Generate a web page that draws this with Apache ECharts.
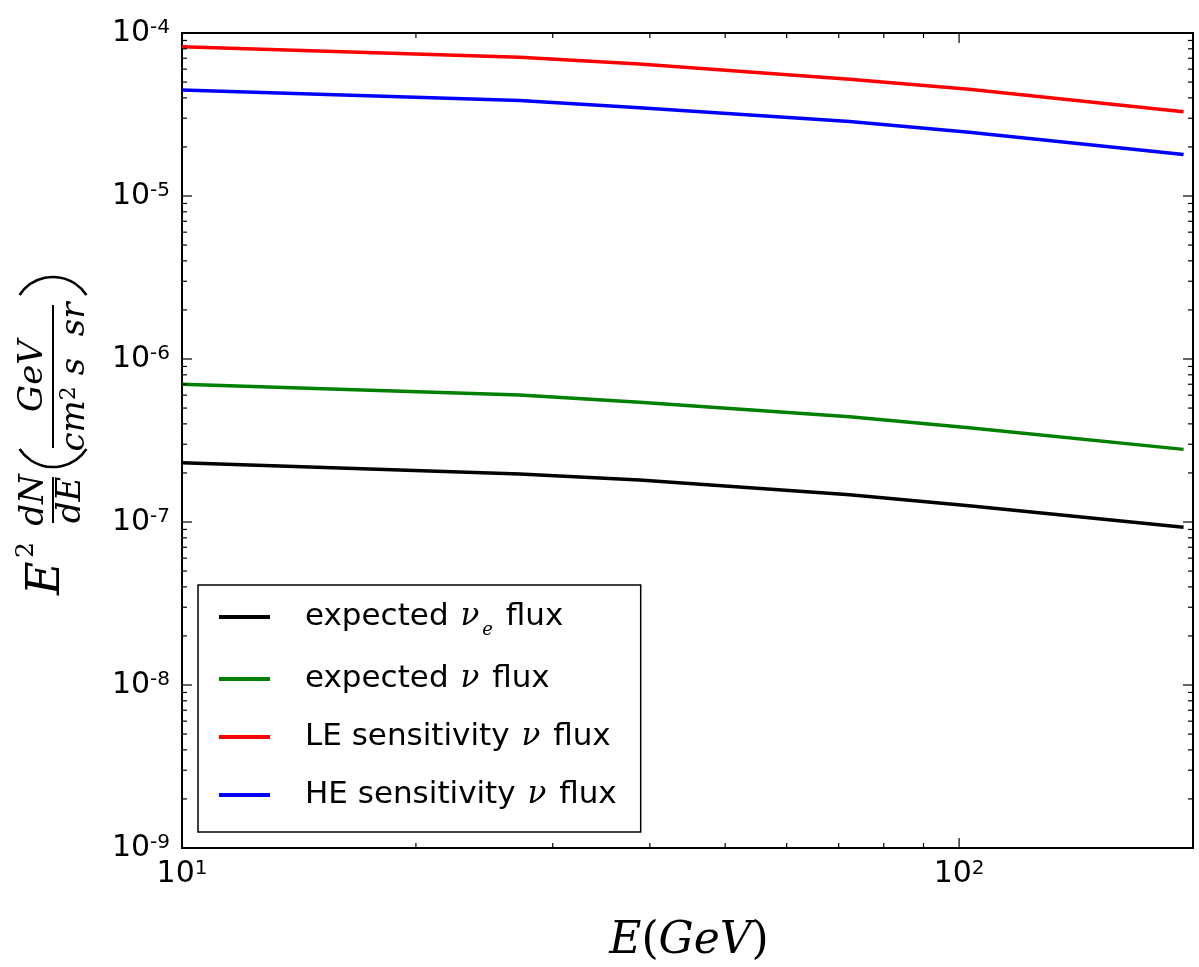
<!DOCTYPE html>
<html>
<head>
<meta charset="utf-8">
<script src="https://cdn.jsdelivr.net/npm/echarts@6/dist/echarts.min.js"></script>
<style>html,body{margin:0;padding:0;background:#fff;}#c{width:1199px;height:967px;}</style>
</head>
<body>
<div id="c"></div>
<script>
// ---- data ----
const energy = [10, 27.2, 38.8, 72.3, 103.0, 194.5];
const expectedNuE = [2.31e-7, 1.97e-7, 1.81e-7, 1.47e-7, 1.26e-7, 9.3e-8];
const expectedNu = [7.00e-7, 6.01e-7, 5.42e-7, 4.43e-7, 3.79e-7, 2.79e-7];
const leSensitivity = [8.24e-5, 7.09e-5, 6.45e-5, 5.20e-5, 4.52e-5, 3.29e-5];
const heSensitivity = [4.47e-5, 3.85e-5, 3.48e-5, 2.86e-5, 2.46e-5, 1.80e-5];

const seriesNames = ['expected nu_e flux', 'expected nu flux', 'LE sensitivity nu flux', 'HE sensitivity nu flux'];
const legendLabels = {
  'expected nu_e flux': 'expected {m|ν}{e|e} flux',
  'expected nu flux': 'expected {m|ν} flux',
  'LE sensitivity nu flux': 'LE sensitivity {m|ν} flux',
  'HE sensitivity nu flux': 'HE sensitivity {m|ν} flux'
};
const seriesColors = ['#000000', '#008000', '#ff0000', '#0000ff'];

// axis ticks
const yMajorTicks = [1e-9, 1e-8, 1e-7, 1e-6, 1e-5, 1e-4];
const yMinorMultipliers = [2, 3, 4, 5, 6, 7, 8, 9];
const xMajorTicks = [10, 100];
const xMinorTicks = [20, 30, 40, 50, 60, 70, 80, 90, 200];

const X_MIN = 10, X_MAX = 200, Y_MIN = 1e-9, Y_MAX = 1e-4;

function pairs(xs, ys) { return xs.map((x, i) => [x, ys[i]]); }

const tickData = [];
yMajorTicks.forEach(v => tickData.push([X_MIN, v, 0, 1]));
yMajorTicks.slice(0, -1).forEach(v => yMinorMultipliers.forEach(m => tickData.push([X_MIN, v * m, 0, 0])));
xMajorTicks.forEach(v => tickData.push([v, Y_MIN, 1, 1]));
xMinorTicks.forEach(v => tickData.push([v, Y_MIN, 1, 0]));

function powLabel(v) {
  const e = Math.log10(v);
  const r = Math.round(e);
  if (Math.abs(e - r) > 1e-6) return '';
  return '{b|10}{s|' + (r < 0 ? '-' + (-r) : r) + '}';
}
const labelRich = {
  b: { fontFamily: 'DejaVu Sans', fontSize: 30, color: '#000', lineHeight: 30, padding: [6, 0, 6, 0] },
  s: { fontFamily: 'DejaVu Sans', fontSize: 20, color: '#000', lineHeight: 20, verticalAlign: 'top' }
};

const chart = echarts.init(document.getElementById('c'), null, { renderer: 'canvas' });

const lineSeries = [expectedNuE, expectedNu, leSensitivity, heSensitivity].map((vals, i) => ({
  name: seriesNames[i],
  type: 'line',
  data: pairs(energy, vals),
  showSymbol: false,
  smooth: false,
  lineStyle: { color: seriesColors[i], width: 3.5, cap: 'butt', join: 'round' },
  itemStyle: { color: seriesColors[i] },
  z: 3
}));

const tickSeries = {
  type: 'custom',
  silent: true,
  clip: false,
  z: 5,
  data: tickData,
  encode: { x: 0, y: 1 },
  renderItem: function (params, api) {
    const kind = api.value(2), major = api.value(3);
    const pt = api.coord([api.value(0), api.value(1)]);
    const cs = params.coordSys;
    const len = major ? 10 : 5;
    const st = { stroke: '#000', lineWidth: 1.2 };
    let a, b;
    if (kind === 0) {
      a = { x1: cs.x, y1: pt[1], x2: cs.x + len, y2: pt[1] };
      b = { x1: cs.x + cs.width - len, y1: pt[1], x2: cs.x + cs.width, y2: pt[1] };
    } else {
      a = { x1: pt[0], y1: cs.y + cs.height, x2: pt[0], y2: cs.y + cs.height - len };
      b = { x1: pt[0], y1: cs.y, x2: pt[0], y2: cs.y + len };
    }
    return { type: 'group', children: [
      { type: 'line', shape: a, style: st },
      { type: 'line', shape: b, style: st }
    ] };
  }
};

const serif = '"DejaVu Serif"';
const yTitle = {
  type: 'group', x: 53, y: 595, rotation: Math.PI / 2, silent: true,
  children: [
    { type: 'text', x: 0, y: -6, style: { text: 'E', font: 'italic 46px ' + serif, fill: '#000', align: 'left', verticalAlign: 'middle' } },
    { type: 'text', x: 37, y: -27, style: { text: '2', font: '25px ' + serif, fill: '#000', align: 'left', verticalAlign: 'middle' } },
    { type: 'text', x: 95, y: -19, style: { text: 'dN', font: 'italic 34px ' + serif, fill: '#000', align: 'center', verticalAlign: 'middle' } },
    { type: 'line', shape: { x1: 72, y1: 0, x2: 118, y2: 0 }, style: { stroke: '#000', lineWidth: 2 } },
    { type: 'text', x: 95, y: 18, style: { text: 'dE', font: 'italic 34px ' + serif, fill: '#000', align: 'center', verticalAlign: 'middle' } },
    { type: 'arc', shape: { cx: 168, cy: 0, r: 40, startAngle: Math.PI - 0.99, endAngle: Math.PI + 0.99, clockwise: true }, style: { stroke: '#000', lineWidth: 2.5, fill: null } },
    { type: 'text', x: 219, y: -20, style: { text: 'GeV', font: 'italic 34px ' + serif, fill: '#000', align: 'center', verticalAlign: 'middle' } },
    { type: 'line', shape: { x1: 147, y1: 0, x2: 290, y2: 0 }, style: { stroke: '#000', lineWidth: 2 } },
    { type: 'text', x: 218, y: 22, style: {
        text: '{i|cm}{s|2}{i| s  sr}', align: 'center', verticalAlign: 'middle',
        rich: {
          i: { font: 'italic 34px ' + serif, fill: '#000', lineHeight: 34 },
          s: { font: '22px ' + serif, fill: '#000', lineHeight: 34, verticalAlign: 'top', padding: [0, 0, 14, 0] }
        } } },
    { type: 'arc', shape: { cx: 278, cy: 0, r: 40, startAngle: -0.99, endAngle: 0.99, clockwise: true }, style: { stroke: '#000', lineWidth: 2.5, fill: null } }
  ]
};
const xTitle = {
  type: 'text', x: 689, y: 942, silent: true,
  style: {
    text: '{i|E}{r|(}{i|GeV}{r|)}', align: 'center', verticalAlign: 'middle',
    rich: {
      i: { font: 'italic 44px ' + serif, fill: '#000' },
      r: { font: '44px ' + serif, fill: '#000' }
    }
  }
};

chart.setOption({
  backgroundColor: '#fff',
  animation: false,
  grid: { left: 182, right: 6, top: 33, bottom: 119, show: true, borderColor: '#000', borderWidth: 2, backgroundColor: 'transparent', containLabel: false, outerBoundsMode: 'none' },
  xAxis: {
    type: 'log', logBase: 10, min: X_MIN, max: X_MAX,
    axisLine: { show: false }, axisTick: { show: false }, splitLine: { show: false }, minorTick: { show: false },
    axisLabel: { margin: 11, formatter: powLabel, rich: labelRich, showMaxLabel: false }
  },
  yAxis: {
    type: 'log', logBase: 10, min: Y_MIN, max: Y_MAX,
    axisLine: { show: false }, axisTick: { show: false }, splitLine: { show: false }, minorTick: { show: false },
    axisLabel: { margin: 12, formatter: powLabel, rich: labelRich }
  },
  legend: {
    data: seriesNames,
    orient: 'vertical', left: 198, top: 585,
    icon: 'rect', itemWidth: 51, itemHeight: 4, itemGap: 22,
    padding: [14, 24, 19, 21],
    borderColor: '#000', borderWidth: 1.5, backgroundColor: '#fff', borderRadius: 0,
    formatter: name => legendLabels[name],
    textStyle: {
      fontFamily: 'DejaVu Sans', fontSize: 31, color: '#000', lineHeight: 36, padding: [0, 0, 0, 30],
      rich: {
        m: { fontFamily: 'DejaVu Serif', fontStyle: 'italic', fontSize: 31, color: '#000', lineHeight: 36, padding: [0, 3, 0, 2] },
        e: { fontFamily: 'DejaVu Serif', fontStyle: 'italic', fontSize: 18, color: '#000', lineHeight: 36, verticalAlign: 'bottom', padding: [0, 3, -4, 0] }
      }
    }
  },
  graphic: [yTitle, xTitle],
  series: lineSeries.concat([tickSeries])
});
</script>
</body>
</html>
